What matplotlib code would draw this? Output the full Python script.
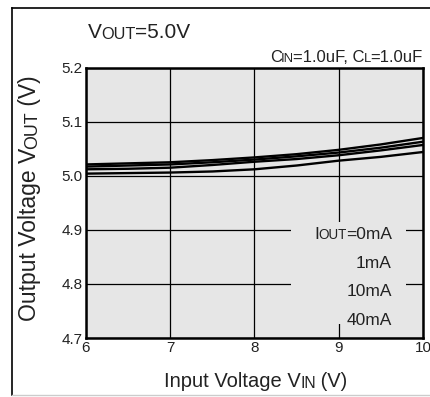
import matplotlib
matplotlib.use("Agg")
import matplotlib.pyplot as plt
from matplotlib.lines import Line2D
from matplotlib.patches import Rectangle

plt.rcParams['font.family'] = ['Liberation Sans', 'DejaVu Sans']

# input voltage (V)
vin = [6.0, 6.5, 7.0, 7.5, 8.0, 8.5, 9.0, 9.5, 10.0]
# output voltage (V) for each load current
vout_0ma = [5.021, 5.023, 5.025, 5.029, 5.034, 5.040, 5.048, 5.058, 5.070]
vout_1ma = [5.017, 5.019, 5.021, 5.025, 5.030, 5.036, 5.043, 5.052, 5.063]
vout_10ma = [5.012, 5.013, 5.015, 5.020, 5.026, 5.031, 5.038, 5.047, 5.057]
vout_40ma = [5.004, 5.005, 5.006, 5.008, 5.012, 5.019, 5.028, 5.035, 5.044]
series = [vout_0ma, vout_1ma, vout_10ma, vout_40ma]

x_ticks = [6, 7, 8, 9, 10]
y_ticks = [4.7, 4.8, 4.9, 5.0, 5.1, 5.2]
labels_y = [4.896, 4.843, 4.79, 4.737]

BG = '#e6e6e6'
TXT = '#222222'

fig = plt.figure(figsize=(4.3, 3.97), dpi=100)
ax = fig.add_axes([0.2, 0.1486, 0.7837, 0.681])
ax.set_facecolor(BG)

for ys in series:
    ax.plot(vin, ys, color='black', lw=1.7, zorder=3)

ax.set_xlim(6, 10)
ax.set_ylim(4.7, 5.2)
ax.set_xticks(x_ticks)
ax.set_yticks(y_ticks)
ax.set_xticklabels([str(v) for v in x_ticks])
ax.set_yticklabels(['%.1f' % v for v in y_ticks])
ax.tick_params(length=0, labelsize=11, labelcolor=TXT)
ax.tick_params(axis='x', pad=2.5)
ax.tick_params(axis='y', pad=2.5)
ax.grid(True, color='black', lw=0.9, zorder=1)
ax.set_axisbelow(True)
for sp in ax.spines.values():
    sp.set_linewidth(1.8)

# blank patch behind the current labels
ax.add_patch(Rectangle((8.43, 4.725), 1.37, 0.189, facecolor=BG, edgecolor='none', zorder=2))


def chain(parts, x, y, size, transform, ha='left', rot=False):
    """draw text pieces one after another (for small caps subscripts)"""
    texts = []
    s, sc = parts[0]
    if rot:
        first = ax.text(x, y, s, fontsize=size * sc, color=TXT, rotation=90,
                        ha='right', va='bottom', transform=transform, clip_on=False)
    else:
        first = ax.text(x, y, s, fontsize=size * sc, color=TXT,
                        ha='left', va='baseline', transform=transform, clip_on=False)
    texts.append(first)
    prev = first
    for s, sc in parts[1:]:
        if rot:
            t = ax.annotate(s, xy=(1, 1), xycoords=prev, xytext=(0, -0.6), textcoords='offset points',
                            fontsize=size * sc, color=TXT,
                            rotation=90, ha='right', va='bottom', annotation_clip=False)
        else:
            t = ax.annotate(s, xy=(1, 0), xycoords=prev, xytext=(-0.6, 0), textcoords='offset points',
                            fontsize=size * sc, color=TXT,
                            ha='left', va='bottom', annotation_clip=False)
        texts.append(t)
        prev = t
    return first, texts, (x, y), transform, ha, rot


chains = []
SC = 0.78
chains.append(chain([('V', 1), ('OUT', SC), ('=5.0V', 1)], 0.205, 0.904, 15, fig.transFigure))
chains.append(chain([('C', 1), ('IN', SC), ('=1.0uF, C', 1), ('L', SC), ('=1.0uF', 1)],
                    0.983, 0.844, 12, fig.transFigure, ha='right'))
chains.append(chain([('Input Voltage V', 1), ('IN', SC), (' (V)', 1)],
                    0.595, 0.025, 14.5, fig.transFigure, ha='center'))
chains.append(chain([('Output Voltage V', 1), ('OUT', SC), (' (V)', 1)],
                    0.095, 0.501, 16.5, fig.transFigure, ha='center', rot=True))

cur_parts = [[('I', 1), ('OUT', SC), ('=0mA', 1)], [('1mA', 1)], [('10mA', 1)], [('40mA', 1)]]
for parts, yv in zip(cur_parts, labels_y):
    chains.append(chain(parts, 9.63, yv - 0.013, 12.5, ax.transData, ha='right'))

# align the chained labels
fig.canvas.draw()
r = fig.canvas.get_renderer()
for first, texts, (x, y), tr, ha, rot in chains:
    if ha == 'left':
        continue
    bbs = [t.get_window_extent(r) for t in texts]
    x0 = min(b.x0 for b in bbs); x1 = max(b.x1 for b in bbs)
    y0 = min(b.y0 for b in bbs); y1 = max(b.y1 for b in bbs)
    px, py = tr.transform((x, y))
    cur = first.get_transform().transform(first.get_position())
    if rot:
        dy = py - (y0 + y1) / 2
        new = (cur[0], cur[1] + dy)
    elif ha == 'right':
        new = (cur[0] + px - x1, cur[1])
    else:
        new = (cur[0] + px - (x0 + x1) / 2, cur[1])
    first.set_position(first.get_transform().inverted().transform(new))

# outer frame lines
fig.add_artist(Line2D([0.028, 0.028], [0.005, 0.98], color='black', lw=1.2, transform=fig.transFigure))
fig.add_artist(Line2D([0.028, 1.0], [0.98, 0.98], color='black', lw=1.2, transform=fig.transFigure))
fig.add_artist(Line2D([0.028, 1.0], [0.005, 0.005], color='#cccccc', lw=1.0, transform=fig.transFigure))

fig.savefig('out.png', dpi=100)
